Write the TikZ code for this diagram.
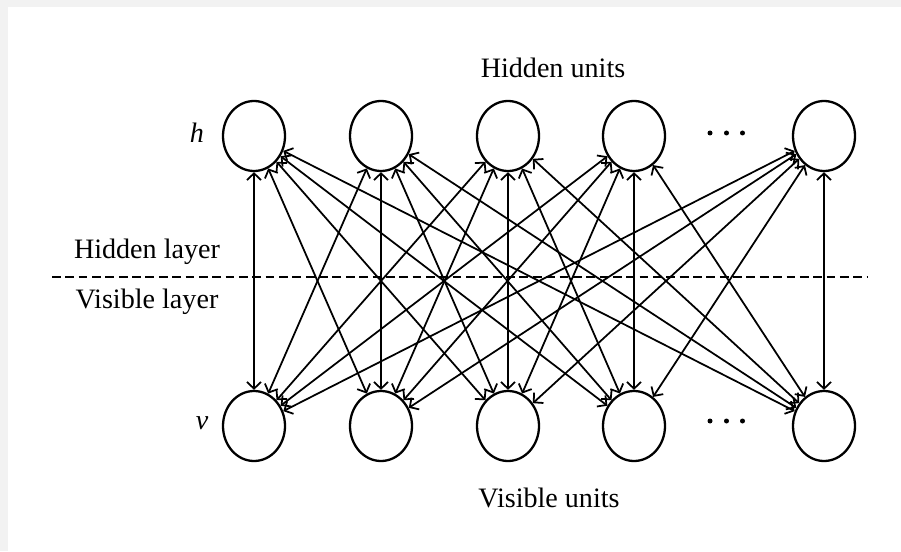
\documentclass[tikz,border=0pt]{standalone}
\usepackage{fontspec}
\setmainfont{Liberation Serif}
\usetikzlibrary{shapes.geometric,arrows.meta}

\begin{document}
\begin{tikzpicture}
\tikzset{neurone/.style={draw, ellipse, line width=1.3pt, minimum width=1.24cm, minimum height=1.4cm, inner sep=0pt},
  lien/.style={line width=1pt, {Straight Barb[length=3.8pt,width=8pt]}-{Straight Barb[length=3.8pt,width=8pt]}},
  etiquette/.style={font=\fontsize{16}{19}\selectfont, inner sep=0pt}}
\useasboundingbox (0, 0) rectangle (18.02, 11.02);
\fill[black!5] (0, 10.88) rectangle (18.02, 11.02);
\fill[black!5] (0, 0) rectangle (0.16, 11.02);
% couche cachee
\node[neurone] (H1) at (5.08, 8.3) {};
\node[neurone] (H2) at (7.62, 8.3) {};
\node[neurone] (H3) at (10.16, 8.3) {};
\node[neurone] (H4) at (12.68, 8.3) {};
\node[neurone] (H5) at (16.48, 8.3) {};
% couche visible
\node[neurone] (V1) at (5.08, 2.5) {};
\node[neurone] (V2) at (7.62, 2.5) {};
\node[neurone] (V3) at (10.16, 2.5) {};
\node[neurone] (V4) at (12.68, 2.5) {};
\node[neurone] (V5) at (16.48, 2.5) {};
\fill (14.2, 8.36) circle (0.05);
\fill (14.53, 8.36) circle (0.05);
\fill (14.85, 8.36) circle (0.05);
\fill (14.2, 2.6) circle (0.05);
\fill (14.53, 2.6) circle (0.05);
\fill (14.85, 2.6) circle (0.05);
\node[etiquette] (hu) at (11.06, 9.66) {Hidden units};
\node[etiquette] (vu) at (10.98, 1.06) {Visible units};
\node[etiquette] (h) at (3.94, 8.36) {\textit{h}};
\node[etiquette] (v) at (4.04, 2.56) {\textit{v}};
\node[etiquette] (hl) at (2.94, 5.98) {Hidden layer};
\node[etiquette] (vl) at (2.94, 4.98) {Visible layer};
\draw[line width=1pt, dash pattern=on 5pt off 2.6pt] (1.04, 5.48) -- (17.36, 5.48);
\draw[lien] (H1) -- (V1);
\draw[lien] (H1) -- (V2);
\draw[lien] (H1) -- (V3);
\draw[lien] (H1) -- (V4);
\draw[lien] (H1) -- (V5);
\draw[lien] (H2) -- (V1);
\draw[lien] (H2) -- (V2);
\draw[lien] (H2) -- (V3);
\draw[lien] (H2) -- (V4);
\draw[lien] (H2) -- (V5);
\draw[lien] (H3) -- (V1);
\draw[lien] (H3) -- (V2);
\draw[lien] (H3) -- (V3);
\draw[lien] (H3) -- (V4);
\draw[lien] (H3) -- (V5);
\draw[lien] (H4) -- (V1);
\draw[lien] (H4) -- (V2);
\draw[lien] (H4) -- (V3);
\draw[lien] (H4) -- (V4);
\draw[lien] (H4) -- (V5);
\draw[lien] (H5) -- (V1);
\draw[lien] (H5) -- (V2);
\draw[lien] (H5) -- (V3);
\draw[lien] (H5) -- (V4);
\draw[lien] (H5) -- (V5);
\end{tikzpicture}
\end{document}
